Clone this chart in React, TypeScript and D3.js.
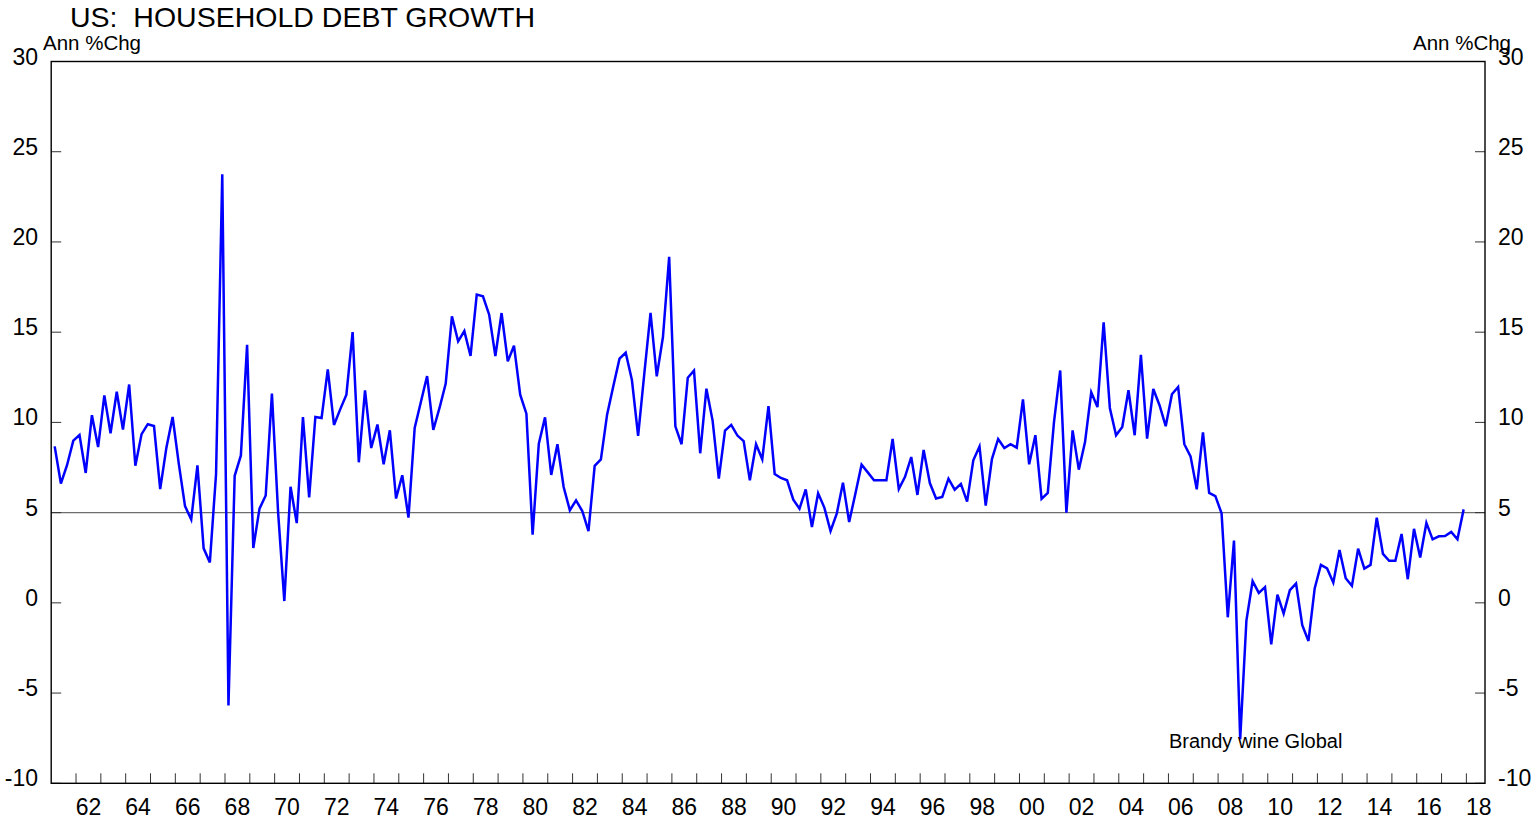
import React from "react";
import * as d3 from "d3";

const TITLE = "US:  HOUSEHOLD DEBT GROWTH";
const UNIT_LABEL = "Ann %Chg";
const SOURCE = "Brandy wine Global";
const START_YEAR = 1961; // first quarter 1961Q1
const Y_TICKS = [-10, -5, 0, 5, 10, 15, 20, 25, 30];
const X_LABEL_YEARS = d3.range(1962, 2019, 2);
const X_TICK_YEARS = d3.range(1962, 2019, 1);
const REF_LEVEL = 5;

// quarterly annualised % change, 1961Q1 .. 2017Q4
const debtGrowth = [
  8.67, 6.61, 7.64, 8.99, 9.3, 7.2, 10.4, 8.63, 11.5, 9.4, 11.7, 9.6, 12.1, 7.6, 9.35, 9.9, 9.8, 6.3, 8.6, 10.3, 7.7, 5.36, 4.62,
  7.62, 3.02, 2.24, 7.14, 23.75, -5.69, 7.04, 8.17, 14.3, 3.04, 5.22, 5.95, 11.6, 5.0, 0.1, 6.43, 4.42, 10.3, 5.85, 10.3, 10.24, 12.94, 9.86,
  10.72, 11.54, 15.0, 7.79, 11.78, 8.58, 9.88, 7.68, 9.56, 5.78, 7.07, 4.72, 9.69, 11.13, 12.57, 9.58, 10.8, 12.15, 15.88, 14.49, 15.06, 13.68, 17.08, 16.99,
  15.97, 13.68, 16.06, 13.38, 14.25, 11.54, 10.48, 3.78, 8.82, 10.28, 7.09, 8.79, 6.42, 5.13, 5.68, 5.09, 3.98, 7.59, 7.95, 10.43, 12.0, 13.53, 13.86,
  12.35, 9.25, 12.72, 16.07, 12.55, 14.73, 19.18, 9.78, 8.79, 12.48, 12.87, 8.29, 11.87, 10.1, 6.88, 9.55, 9.86, 9.27, 8.96, 6.79, 8.79, 7.96, 10.9, 7.14,
  6.92, 6.79, 5.72, 5.22, 6.29, 4.2, 6.07, 5.28, 3.98, 4.94, 6.66, 4.48, 6.05, 7.66, 7.23, 6.79, 6.79, 6.79, 9.08, 6.31, 6.98, 8.08, 5.98,
  8.47, 6.64, 5.78, 5.87, 6.88, 6.27, 6.59, 5.61, 7.9, 8.67, 5.39, 7.97, 9.08, 8.58, 8.79, 8.6, 11.28, 7.68, 9.29, 5.76, 6.09, 10.02, 12.88,
  5.0, 9.56, 7.38, 8.91, 11.67, 10.85, 15.55, 10.8, 9.29, 9.75, 11.78, 9.29, 13.75, 9.1, 11.85, 10.95, 9.79, 11.56, 11.96, 8.79, 8.12, 6.29, 9.45, 6.09,
  5.92, 4.96, -0.8, 3.45, -7.55, -0.98, 1.2, 0.55, 0.87, -2.3, 0.46, -0.6, 0.7, 1.07, -1.24, -2.11, 0.8, 2.1, 1.91, 1.12, 2.93, 1.36, 0.94,
  3.0, 1.9, 2.1, 4.72, 2.71, 2.33, 2.33, 3.82, 1.31, 4.1, 2.51, 4.43, 3.52, 3.69, 3.7, 3.93, 3.52, 5.18,
];

const W = 1537;
const H = 819;
const LEFT = 51.2;
const RIGHT = 1485;
const TOP = 61.5;
const BOTTOM = 783.3;
const FONT = "'Liberation Sans', Arial, sans-serif";

export default function App() {
  const x = d3.scaleLinear().domain([1961, 2018.75]).range([LEFT, RIGHT]);
  const y = d3.scaleLinear().domain([-10, 30]).range([BOTTOM, TOP]);
  const pts = debtGrowth.map((v, i) => ({ t: START_YEAR + i * 0.25 + 0.14, v }));
  const line = d3
    .line<{ t: number; v: number }>()
    .x((d) => x(d.t))
    .y((d) => y(d.v));

  return (
    <svg
      width={W}
      height={H}
      style={{ position: "absolute", left: 0, top: 0, background: "#fff" }}
      fontFamily={FONT}
    >
      <rect x={0} y={0} width={W} height={H} fill="#fff" />
      <text x={70} y={27} fontSize={28.5} fill="#000" style={{ whiteSpace: "pre" }}>
        {TITLE}
      </text>
      <text x={43} y={50} fontSize={20.5} fill="#000">
        {UNIT_LABEL}
      </text>
      <text x={1511} y={50} fontSize={20.5} fill="#000" textAnchor="end">
        {UNIT_LABEL}
      </text>

      {/* reference line */}
      <line
        x1={LEFT}
        x2={RIGHT}
        y1={y(REF_LEVEL)}
        y2={y(REF_LEVEL)}
        stroke="#6e6e6e"
        strokeWidth={1.3}
      />

      {/* y ticks and labels */}
      {Y_TICKS.map((t) => (
        <g key={t}>
          <line x1={LEFT} x2={LEFT + 10} y1={y(t)} y2={y(t)} stroke="#333" strokeWidth={1} />
          <line x1={RIGHT - 10} x2={RIGHT} y1={y(t)} y2={y(t)} stroke="#333" strokeWidth={1} />
          <text x={38} y={y(t) + 3} fontSize={23} textAnchor="end" fill="#000">
            {t}
          </text>
          <text x={1498} y={y(t) + 3} fontSize={23} textAnchor="start" fill="#000">
            {t}
          </text>
        </g>
      ))}

      {/* x ticks */}
      {X_TICK_YEARS.map((yr) => (
        <line key={yr} x1={x(yr)} x2={x(yr)} y1={BOTTOM} y2={BOTTOM - 10} stroke="#333" strokeWidth={1} />
      ))}
      {X_LABEL_YEARS.map((yr) => (
        <text key={yr} x={x(yr + 0.5)} y={BOTTOM + 32} fontSize={23} textAnchor="middle" fill="#000">
          {String(yr % 100).padStart(2, "0")}
        </text>
      ))}

      <path d={line(pts) || ""} fill="none" stroke="#0000ff" strokeWidth={2.5} strokeLinejoin="miter" />

      <rect
        x={LEFT}
        y={TOP}
        width={RIGHT - LEFT}
        height={BOTTOM - TOP}
        fill="none"
        stroke="#000"
        strokeWidth={1.4}
      />

      <text x={1169} y={748} fontSize={20} fill="#000">
        {SOURCE}
      </text>
    </svg>
  );
}
